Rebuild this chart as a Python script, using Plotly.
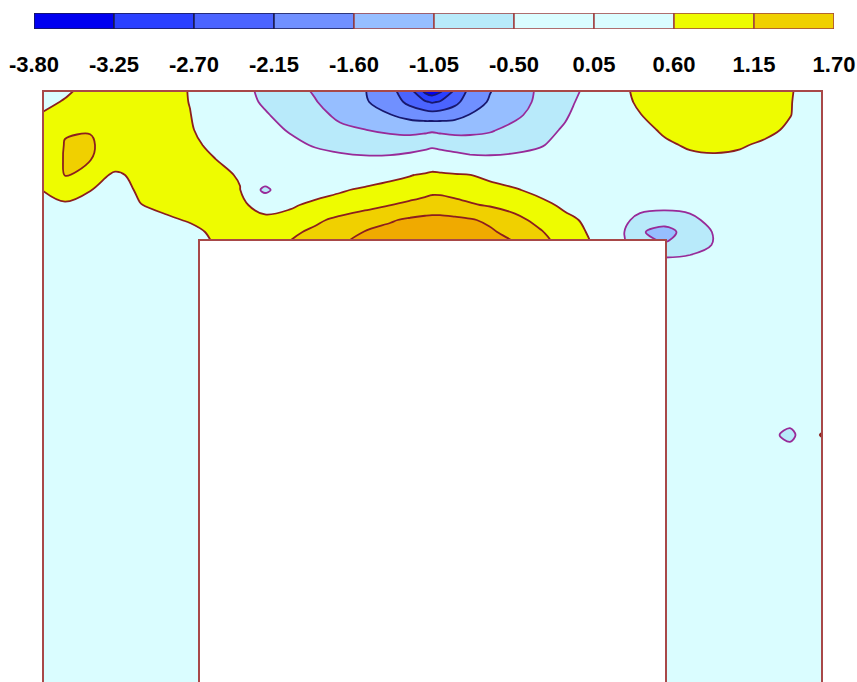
import plotly.graph_objects as go

# ---- colour-bar levels and band colours ----
LEVELS = [-3.80, -3.25, -2.70, -2.15, -1.60, -1.05, -0.50, 0.05, 0.60, 1.15, 1.70]
BAND_COLORS = ["#0000f0", "#2a40ff", "#4b64ff", "#7090ff", "#96beff",
               "#b8eafa", "#dafdff", "#dafdff", "#eefc00", "#f0d000"]
BELOW_COLOR = "#0000f0"
ABOVE_COLOR = "#f0aa00"
DIVIDER_COLORS = ["#1a1a50"] * 4 + ["#a04040"] * 6

# ---- field sample positions (pixel-like units) ----
X_COLS = [43, 65, 90, 115, 140, 165, 190, 215, 240, 265, 290, 315, 340, 365, 390,
          410, 425, 432, 440, 455, 470, 490, 515, 540, 565, 590, 615, 640, 665,
          690, 715, 740, 765, 790, 822]
Y_ROWS = [91, 102, 115, 130, 145, 160, 175, 190, 205, 220, 232, 245, 260, 280,
          320, 420, 435, 450, 500, 682]

Z0 = [0.0] * 35
Z_VALUES = [
    [0.3, 0.5, 0.8, 0.9, 0.95, 0.85, 0.57, 0.1, -0.35, -0.61, -0.85, -1.10, -1.34, -1.58, -1.98,
     -2.5, -3.4, -3.6, -3.35, -2.6, -2.0, -1.62, -1.3, -0.97, -0.65, -0.4, 0.3, 0.8, 0.88,
     0.93, 0.97, 0.95, 0.88, 0.65, 0.2],
    [0.45, 0.65, 0.85, 0.95, 1.0, 0.88, 0.58, 0.1, -0.3, -0.57, -0.8, -1.02, -1.3, -1.55, -1.85,
     -2.3, -2.62, -2.75, -2.65, -2.3, -1.85, -1.55, -1.25, -0.95, -0.6, -0.35, 0.2, 0.75, 0.85,
     0.9, 0.95, 0.93, 0.86, 0.63, 0.2],
    [0.65, 0.9, 1.0, 1.0, 0.98, 0.85, 0.62, 0.15, -0.15, -0.45, -0.7, -0.9, -1.15, -1.4, -1.58,
     -1.8, -1.9, -1.92, -1.9, -1.8, -1.58, -1.4, -1.15, -0.85, -0.55, -0.25, 0.1, 0.58, 0.8,
     0.88, 0.92, 0.9, 0.82, 0.62, 0.15],
    [0.75, 1.12, 1.13, 0.95, 0.9, 0.82, 0.68, 0.2, -0.05, -0.3, -0.55, -0.8, -0.95, -1.04, -1.12,
     -1.17, -1.15, -1.12, -1.15, -1.17, -1.15, -1.1, -0.9, -0.65, -0.45, -0.2, 0.0, 0.4, 0.7,
     0.82, 0.86, 0.84, 0.75, 0.5, 0.1],
    [0.8, 1.17, 1.2, 0.95, 0.85, 0.8, 0.75, 0.45, 0.1, -0.1, -0.35, -0.55, -0.7, -0.8, -0.85,
     -0.82, -0.72, -0.65, -0.72, -0.82, -0.85, -0.8, -0.7, -0.55, -0.3, -0.1, -0.05, 0.2, 0.5,
     0.68, 0.72, 0.66, 0.5, 0.3, 0.05],
    [0.85, 1.18, 1.16, 0.95, 0.85, 0.8, 0.78, 0.62, 0.3, 0.0, -0.15, -0.25, -0.32, -0.37, -0.33,
     -0.2, -0.05, 0.05, -0.02, -0.15, -0.3, -0.36, -0.33, -0.26, -0.15, -0.05, -0.05, 0.1, 0.3,
     0.45, 0.5, 0.45, 0.3, 0.15, 0.0],
    [0.85, 1.16, 0.9, 0.5, 0.75, 0.8, 0.8, 0.75, 0.55, 0.3, 0.2, 0.15, 0.2, 0.3, 0.45,
     0.57, 0.68, 0.75, 0.72, 0.66, 0.61, 0.45, 0.3, 0.15, 0.05, 0.0, 0.0, 0.05, 0.15,
     0.25, 0.28, 0.25, 0.15, 0.05, 0.0],
    [0.62, 0.95, 0.62, 0.3, 0.7, 0.8, 0.82, 0.78, 0.62, -0.75, 0.35, 0.45, 0.55, 0.68, 0.8,
     0.9, 1.0, 1.05, 1.05, 1.0, 0.92, 0.8, 0.65, 0.45, 0.25, 0.1, 0.0, 0.0, 0.05,
     0.1, 0.1, 0.1, 0.05, 0.0, 0.0],
    [0.3, 0.5, 0.4, 0.3, 0.58, 0.75, 0.8, 0.78, 0.65, 0.5, 0.55, 0.68, 0.8, 0.95, 1.14,
     1.25, 1.32, 1.35, 1.34, 1.27, 1.2, 1.1, 0.95, 0.75, 0.5, 0.3, 0.05, -0.2, -0.3,
     -0.3, -0.2, -0.05, 0.0, 0.0, 0.0],
    [0.1, 0.2, 0.2, 0.2, 0.35, 0.5, 0.65, 0.75, 0.72, 0.66, 0.72, 1.05, 1.28, 1.5, 1.65,
     1.78, 1.85, 1.87, 1.87, 1.82, 1.75, 1.6, 1.3, 1.0, 0.72, 0.5, -0.1, -0.75, -0.85,
     -0.65, -0.3, -0.1, 0.0, 0.0, 0.0],
    [0.05, 0.1, 0.1, 0.1, 0.15, 0.3, 0.45, 0.7, 0.8, 0.85, 1.05, 1.25, 1.45, 1.72, 1.85,
     1.95, 2.0, 2.0, 2.0, 1.95, 1.88, 1.78, 1.5, 1.2, 0.85, 0.55, -0.2, -1.0, -1.22,
     -0.85, -0.45, -0.1, 0.0, 0.0, 0.0],
    [0.05, 0.05, 0.05, 0.05, 0.1, 0.2, 0.35, 0.62, 0.8, 0.95, 1.2, 1.4, 1.65, 1.85, 2.0,
     2.1, 2.1, 2.1, 2.1, 2.05, 1.95, 1.85, 1.75, 1.3, 1.0, 0.62, 0.0, -1.0, -1.0,
     -0.8, -0.45, -0.1, 0.0, 0.0, 0.0],
    [0.0, 0.0, 0.0, 0.0, 0.05, 0.1, 0.3, 0.5, 0.7, 0.85, 1.0, 1.2, 1.4, 1.6, 1.68,
     1.75, 1.75, 1.75, 1.75, 1.68, 1.65, 1.55, 1.4, 1.2, 0.9, 0.5, -0.1, -0.3, -0.4,
     -0.35, -0.2, -0.05, 0.0, 0.0, 0.0],
    list(Z0),
    list(Z0),
    [0.0] * 32 + [-0.1, -0.2, 0.0],
    [0.0] * 32 + [-0.15, -0.75, 0.7],
    [0.0] * 32 + [-0.1, -0.2, 0.0],
    list(Z0),
    list(Z0),
]

# building footprint (white block) in the same units
BUILDING = dict(x0=199, x1=666, y0=240, y1=682)

FRAME_COLOR = "#a84848"
LINE_NAVY = "#18186e"
LINE_PURPLE = "#982a98"
LINE_RED = "#8c1e1e"

W, H = 857, 682
M_L, M_R, M_T, M_B = 34, 23, 13, 0
PW, PH = W - M_L - M_R, H - M_T - M_B

x_lo, x_hi = min(X_COLS) - 2, max(X_COLS) + 2
y_top, y_bot = min(Y_ROWS) - 2, max(Y_ROWS)

step = LEVELS[1] - LEVELS[0]
scale_cols = [BELOW_COLOR] + BAND_COLORS + [ABOVE_COLOR]
colorscale = [[k / (len(scale_cols) - 1), c] for k, c in enumerate(scale_cols)]

fig = go.Figure()
fig.add_trace(go.Contour(
    x=X_COLS, y=Y_ROWS, z=Z_VALUES,
    autocontour=False,
    contours=dict(start=LEVELS[0], end=LEVELS[-1], size=step,
                  coloring="fill", showlines=False),
    colorscale=colorscale, showscale=False,
    line=dict(smoothing=1, width=0),
    hoverinfo="skip",
))

for lo, hi, col in [(LEVELS[1], LEVELS[4], LINE_NAVY),
                    (LEVELS[5], LEVELS[6], LINE_PURPLE),
                    (LEVELS[8], LEVELS[10], LINE_RED)]:
    fig.add_trace(go.Contour(
        x=X_COLS, y=Y_ROWS, z=Z_VALUES,
        autocontour=False,
        contours=dict(start=lo, end=hi, size=step, coloring="none", showlines=True),
        line=dict(color=col, width=1.8, smoothing=1),
        showscale=False, hoverinfo="skip",
    ))

# colour bar drawn as a strip of horizontal bars
fig.add_trace(go.Bar(
    x=[LEVELS[i + 1] - LEVELS[i] for i in range(len(LEVELS) - 1)],
    y=[0] * (len(LEVELS) - 1),
    base=LEVELS[:-1],
    orientation="h",
    width=1,
    marker=dict(color=BAND_COLORS, line=dict(color=DIVIDER_COLORS, width=1.5)),
    xaxis="x2", yaxis="y2",
    cliponaxis=False,
    showlegend=False, hoverinfo="skip",
))

fig.add_shape(type="rect", xref="x", yref="y",
              x0=BUILDING["x0"], x1=BUILDING["x1"], y0=BUILDING["y0"], y1=BUILDING["y1"],
              fillcolor="white", line=dict(width=0), layer="above")
fig.add_shape(type="path", xref="x", yref="y",
              path=f"M {BUILDING['x0']} {BUILDING['y1']} L {BUILDING['x0']} {BUILDING['y0']} "
                   f"L {BUILDING['x1']} {BUILDING['y0']} L {BUILDING['x1']} {BUILDING['y1']}",
              line=dict(color=FRAME_COLOR, width=2), layer="above")
fig.add_shape(type="path", xref="x", yref="y",
              path=f"M {min(X_COLS)} {max(Y_ROWS)} L {min(X_COLS)} {min(Y_ROWS)} "
                   f"L {max(X_COLS)} {min(Y_ROWS)} L {max(X_COLS)} {max(Y_ROWS)}",
              line=dict(color=FRAME_COLOR, width=2), layer="above")

xd0 = (x_lo - M_L) / PW
xd1 = (x_hi - M_L) / PW
yd1 = (H - M_B - y_top) / PH
cb_top, cb_bot = 13, 29
fig.update_layout(
    width=W, height=H,
    margin=dict(l=M_L, r=M_R, t=M_T, b=M_B, pad=0),
    paper_bgcolor="white", plot_bgcolor="white",
    showlegend=False,
    xaxis=dict(domain=[xd0, xd1], range=[x_lo, x_hi], visible=False),
    yaxis=dict(domain=[0, yd1], range=[y_bot, y_top], visible=False),
    xaxis2=dict(domain=[0, 1], range=[LEVELS[0], LEVELS[-1]], anchor="y2",
                tickvals=LEVELS, ticktext=[f"{v:.2f}" for v in LEVELS],
                ticks="outside", ticklen=16, tickcolor="rgba(0,0,0,0)",
                showgrid=False, zeroline=False, showline=False,
                tickfont=dict(family="Liberation Sans, Arial, sans-serif", size=22,
                              color="black", weight="bold")),
    yaxis2=dict(domain=[(H - M_B - cb_bot) / PH, (H - M_B - cb_top) / PH],
                range=[-0.5, 0.5], anchor="x2", visible=False),
)

fig.write_html(
    "out.html",
    config={"displayModeBar": False},
    post_script="document.body.style.margin='0';document.body.style.overflow='hidden';",
)
